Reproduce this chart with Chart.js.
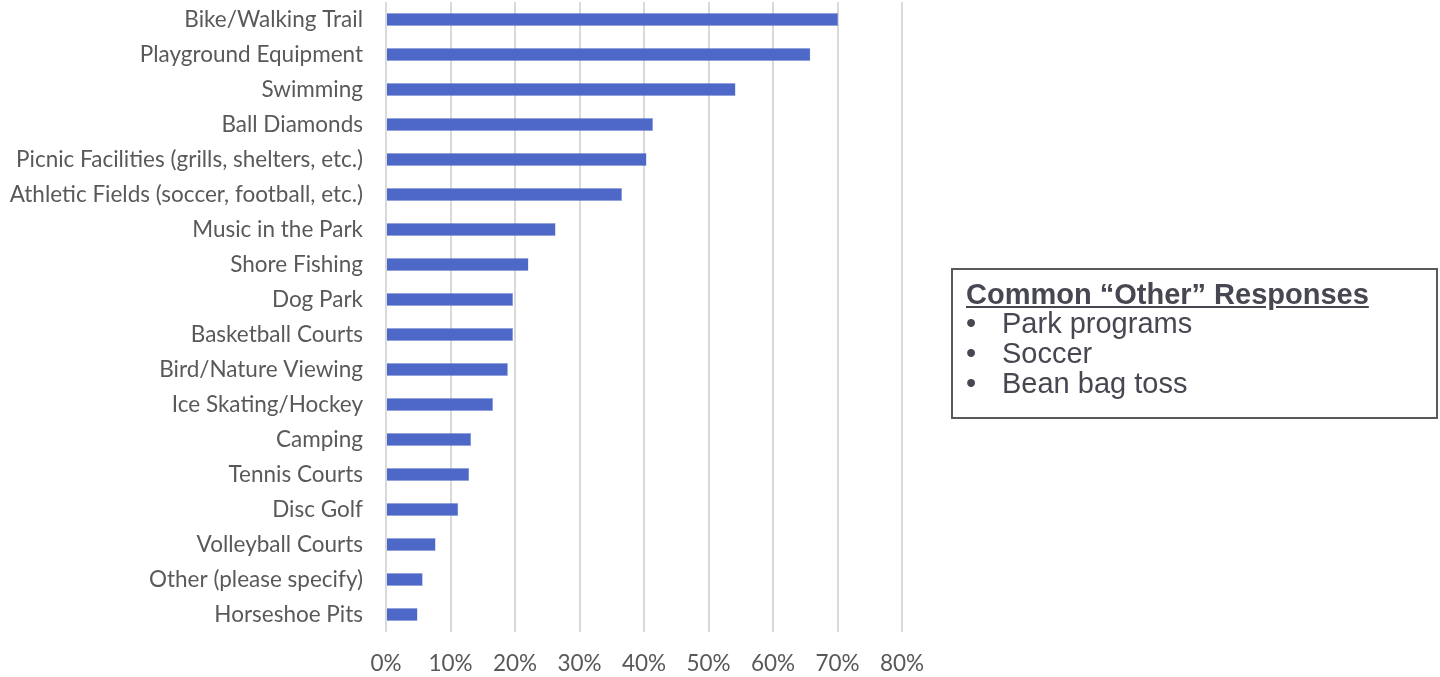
<!DOCTYPE html>
<html>
<head>
<meta charset="utf-8">
<script src="https://cdn.jsdelivr.net/npm/chart.js@4"></script>
<style>
    html, body { margin: 0; padding: 0; background: #ffffff; }
    #wrap { position: relative; width: 1440px; height: 677px; }
    #otherBox {
        position: absolute;
        left: 951px; top: 268px;
        width: 487px; height: 151px;
        border: 2px solid #595959;
        box-sizing: border-box;
        font-family: "Liberation Sans", Arial, sans-serif;
        color: #474752;
        padding: 9px 0 0 13px;
    }
    #otherBox .title { font-weight: bold; font-size: 29px; text-decoration: underline; line-height: 30px; }
    #otherBox ul { list-style: none; margin: 0; padding: 0; }
    #otherBox li { font-size: 29px; line-height: 30px; position: relative; padding-left: 36px; }
    #otherBox li:first-child { margin-top: -1px; }
    #otherBox li::before { content: "•"; position: absolute; left: 0px; }
</style>
</head>
<body>
<div id="wrap">
    <canvas id="amenityChart" width="1440" height="677"></canvas>
    <div id="otherBox">
        <div class="title">Common “Other” Responses</div>
        <ul>
            <li>Park programs</li>
            <li>Soccer</li>
            <li>Bean bag toss</li>
        </ul>
    </div>
</div>
<script>
// categories, top to bottom
const amenities = [
    'Bike/Walking Trail',
    'Playground Equipment',
    'Swimming',
    'Ball Diamonds',
    'Picnic Facilities (grills, shelters, etc.)',
    'Athletic Fields (soccer, football, etc.)',
    'Music in the Park',
    'Shore Fishing',
    'Dog Park',
    'Basketball Courts',
    'Bird/Nature Viewing',
    'Ice Skating/Hockey',
    'Camping',
    'Tennis Courts',
    'Disc Golf',
    'Volleyball Courts',
    'Other (please specify)',
    'Horseshoe Pits'
];

// share of respondents (0..1)
const shares = [
    0.701, 0.658, 0.542, 0.414, 0.404, 0.366, 0.263, 0.221, 0.197,
    0.197, 0.189, 0.166, 0.132, 0.129, 0.112, 0.077, 0.057, 0.049
];

const xMax = 0.8;
const xStep = 0.1;

const barColor = '#4e68c8';
const gridColor = '#d9d9d9';
const labelColor = '#595959';
const labelFont = { family: 'Lato, "Open Sans", sans-serif', size: 22.5 };

const ctx = document.getElementById('amenityChart').getContext('2d');
new Chart(ctx, {
    type: 'bar',
    data: {
        labels: amenities,
        datasets: [{
            data: shares,
            backgroundColor: barColor,
            borderColor: 'rgba(78, 104, 200, 0.45)',
            borderWidth: 0.5,
            barPercentage: 0.37,
            categoryPercentage: 1.0
        }]
    },
    options: {
        indexAxis: 'y',
        responsive: false,
        animation: false,
        layout: { padding: { top: 2, right: 538, left: 0, bottom: 0 } },
        plugins: {
            legend: { display: false },
            tooltip: { enabled: false }
        },
        scales: {
            x: {
                min: 0,
                max: xMax,
                ticks: {
                    stepSize: xStep,
                    color: labelColor,
                    font: labelFont,
                    padding: 18,
                    callback: v => Math.round(v * 100) + '%'
                },
                grid: { color: gridColor, lineWidth: 2, drawTicks: false },
                border: { display: false },
                afterFit: scale => {
                    scale.height = 45;
                    scale.paddingLeft = 0;
                    scale.paddingRight = 0;
                }
            },
            y: {
                ticks: {
                    color: labelColor,
                    font: labelFont,
                    padding: 23
                },
                grid: { display: false, drawTicks: false },
                border: { display: false },
                afterFit: scale => {
                    scale.width = 386;
                    scale.paddingTop = 0;
                    scale.paddingBottom = 0;
                }
            }
        }
    }
});
</script>
</body>
</html>
